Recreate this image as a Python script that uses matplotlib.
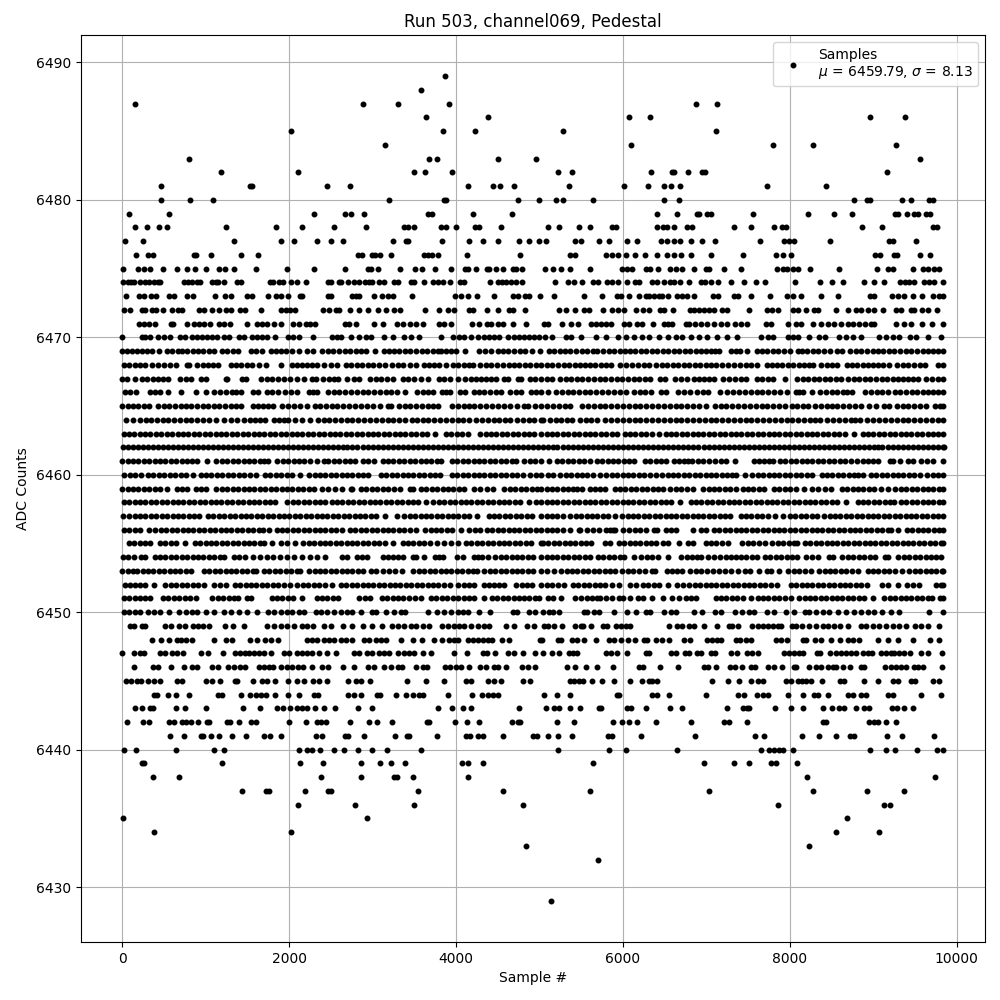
import numpy as np
import matplotlib
matplotlib.use("Agg")
import matplotlib.pyplot as plt

# Sample numbers, one list per ADC level
s6489 = [3872]
s6488 = [3584]
s6487 = [152, 2888, 3308, 3920, 6876, 7128]
s6486 = [3644, 4388, 6072, 6324, 8964, 9384]
s6485 = [2024, 3848, 4232, 5280, 7116]
s6484 = [3152, 6096, 7800, 8280, 9276]
s6483 = [800, 3680, 3776, 4508, 4960, 9564]
s6482 = [1184, 2108, 3500, 3632, 3956, 5220, 5388, 6336, 6588, 6612, 6780, 6948, 6980, 9168]
s6481 = [464, 1528, 1556, 2456, 2732, 4148, 4448, 4532, 4700, 5352, 6012, 6300, 6492, 6576, 6684, 7728, 8436]
s6480 = [464, 812, 1088, 3200, 3860, 3880, 4748, 4992, 5196, 5280, 5640, 6492, 6672, 8772, 8924, 8960, 9348, 9456, 9672, 9720]
s6479 = [80, 560, 2300, 2672, 2744, 2900, 3668, 3716, 4208, 4676, 6408, 6648, 6884, 6912, 7012, 7052, 7560, 8220, 8532, 8748, 9264, 9296, 9408, 9492, 9540, 9636, 9684]
s6478 = [152, 296, 440, 536, 1244, 1844, 2156, 2540, 2924, 3380, 3420, 3500, 3824, 3884, 4004, 4232, 4280, 4544, 5100, 5232, 5472, 5604, 5872, 5920, 6408, 6480, 6532, 6612, 6768, 6828, 7332, 7536, 7812, 7908, 7948, 8868, 9108, 9720, 9760]
s6477 = [32, 248, 1340, 1904, 2060, 2336, 2504, 2648, 3248, 3396, 3428, 3836, 4160, 4328, 4508, 4760, 4880, 4990, 5076, 5424, 5496, 5712, 5836, 6048, 6168, 6456, 6532, 6612, 6680, 6816, 6948, 7104, 7644, 7932, 7992, 8052, 8484, 9192, 9240, 9516]
s6476 = [164, 308, 368, 860, 880, 1064, 1424, 1628, 2828, 2876, 2996, 3028, 3092, 3224, 3620, 3668, 3708, 3788, 4136, 4772, 5364, 5424, 5796, 5872, 5940, 6036, 6144, 6264, 6408, 6528, 6612, 6696, 6816, 7056, 7440, 7836, 7920, 8016, 9024, 9084, 9252, 9284, 9564, 9684]
s6475 = [8, 188, 260, 332, 488, 656, 776, 872, 1004, 1160, 1236, 1340, 1604, 1976, 2300, 2672, 2940, 2980, 3060, 3332, 3512, 3596, 3752, 3940, 4108, 4140, 4244, 4372, 4400, 4484, 4564, 4684, 4724, 4796, 5064, 5160, 5256, 5364, 5604, 5992, 6052, 6112, 6276, 6324, 6420, 6564, 6632, 6708, 6852, 6992, 7032, 7212, 7416, 7848, 7912, 7960, 8032, 8092, 8244, 8592, 9048, 9180, 9240, 9480, 9596, 9652, 9732, 9792]
s6474 = [8, 68, 108, 140, 212, 280, 320, 388, 428, 460, 740, 788, 836, 892, 932, 1080, 1120, 1148, 1220, 1380, 1428, 1772, 1812, 1880, 1924, 2020, 2096, 2204, 2468, 2508, 2600, 2628, 2708, 2780, 2840, 2908, 2960, 2988, 3080, 3140, 3260, 3308, 3460, 3492, 3620, 3728, 3788, 3848, 3924, 4052, 4100, 4404, 4500, 4548, 4600, 4660, 4724, 4788, 5184, 5340, 5412, 5508, 5640, 5700, 5808, 5872, 5940, 6052, 6144, 6192, 6348, 6412, 6492, 6564, 6612, 6684, 6792, 6932, 6984, 7052, 7140, 7296, 7452, 7596, 7704, 8064, 8364, 8508, 8640, 8892, 9012, 9132, 9324, 9380, 9432, 9492, 9612, 9672, 9732, 9840]
s6473 = [44, 200, 260, 348, 412, 560, 620, 776, 848, 1112, 1236, 1304, 1492, 1556, 1748, 1844, 1908, 1988, 2132, 2160, 2468, 2500, 2756, 2800, 2840, 3020, 3116, 3180, 3248, 3476, 3992, 4060, 4148, 4256, 4460, 4688, 4748, 4832, 4880, 5004, 5172, 5532, 5748, 5928, 5980, 6072, 6192, 6272, 6312, 6372, 6432, 6472, 6540, 6652, 6712, 6772, 6852, 7080, 7140, 7332, 7380, 7536, 7764, 7964, 8032, 8136, 8376, 8580, 8956, 9004, 9228, 9300, 9372, 9472, 9580, 9720, 9792, 9840]
s6472 = [28, 100, 244, 276, 360, 412, 492, 592, 672, 716, 924, 980, 1080, 1160, 1240, 1304, 1412, 1468, 1664, 1900, 1960, 2012, 2072, 2404, 2480, 2560, 2600, 2732, 2840, 2948, 3068, 3164, 3260, 3332, 3632, 3800, 3900, 3980, 4160, 4200, 4376, 4508, 4640, 4680, 4832, 5232, 5312, 5424, 5532, 5592, 5760, 5872, 5940, 6012, 6160, 6240, 6312, 6444, 6492, 6600, 6804, 6852, 6912, 6972, 7032, 7092, 7192, 7252, 7512, 7724, 7780, 7852, 8032, 8092, 8192, 8292, 8332, 8556, 8700, 8792, 8852, 8932, 9012, 9120, 9276, 9332, 9452, 9484, 9588, 9652, 9768]
s6471 = [200, 260, 328, 392, 580, 612, 776, 860, 920, 980, 1052, 1160, 1220, 1292, 1496, 1620, 1680, 1740, 1820, 1900, 2048, 2120, 2200, 2252, 2312, 2672, 2720, 2800, 3020, 3120, 3288, 3360, 3448, 3520, 3600, 3800, 3860, 3940, 4192, 4280, 4368, 4420, 4500, 4560, 4680, 4840, 5052, 5100, 5268, 5380, 5460, 5612, 5672, 5732, 5792, 5852, 6012, 6072, 6164, 6232, 6360, 6492, 6540, 6592, 6752, 6792, 6860, 6932, 7012, 7092, 7172, 7252, 7340, 7412, 7488, 7712, 7772, 7980, 8072, 8132, 8280, 8372, 8452, 8532, 8612, 8692, 8752, 8832, 8904, 8972, 9012, 9276, 9372, 9452, 9584, 9708, 9840]
s6470 = [0, 240, 280, 340, 428, 500, 572, 692, 756, 840, 900, 960, 1020, 1080, 1140, 1220, 1280, 1400, 1460, 1552, 1620, 1680, 1740, 1832, 1988, 2052, 2120, 2288, 2520, 2580, 2628, 2748, 2840, 2920, 2980, 3132, 3240, 3372, 3460, 3560, 3820, 3968, 4040, 4092, 4184, 4260, 4332, 4400, 4460, 4520, 4628, 4700, 4760, 4820, 4880, 4932, 4992, 5072, 5152, 5312, 5372, 5492, 5672, 5792, 5940, 6032, 6132, 6232, 6312, 6428, 6540, 6632, 6712, 6812, 6912, 7012, 7132, 7252, 7372, 7652, 7732, 7792, 7972, 8032, 8092, 8228, 8352, 8420, 8592, 8672, 8752, 8852, 9072, 9152, 9232, 9312, 9444, 9512, 9652, 9812]
s6469 = [0, 60, 115, 180, 240, 300, 360, 440, 540, 600, 665, 720, 780, 850, 910, 975, 1040, 1100, 1200, 1260, 1330, 1390, 1540, 1610, 1680, 1780, 1840, 1900, 1965, 2030, 2120, 2220, 2290, 2400, 2470, 2530, 2600, 2670, 2730, 2800, 2860, 2920, 3032, 3132, 3195, 3260, 3320, 3390, 3450, 3520, 3590, 3650, 3720, 3780, 3820, 3880, 3940, 4000, 4112, 4280, 4350, 4420, 4500, 4560, 4620, 4700, 4770, 4830, 4910, 5010, 5112, 5180, 5240, 5310, 5370, 5440, 5510, 5570, 5640, 5692, 5760, 5830, 5890, 5960, 6020, 6090, 6150, 6220, 6280, 6350, 6410, 6480, 6540, 6610, 6670, 6740, 6800, 6870, 6930, 7000, 7060, 7100, 7152, 7290, 7350, 7400, 7492, 7600, 7665, 7730, 7800, 7860, 7930, 8000, 8092, 8140, 8210, 8280, 8340, 8410, 8480, 8560, 8630, 8720, 8790, 8850, 8920, 8990, 9050, 9120, 9190, 9250, 9320, 9390, 9450, 9520, 9590, 9650, 9720, 9780, 9840]
s6468 = [20, 85, 150, 210, 270, 360, 430, 500, 570, 640, 780, 800, 900, 965, 1030, 1090, 1150, 1300, 1365, 1430, 1500, 1560, 1640, 1720, 1900, 2030, 2095, 2160, 2220, 2280, 2340, 2420, 2500, 2580, 2680, 2740, 2810, 2875, 2940, 3010, 3080, 3150, 3230, 3300, 3370, 3445, 3520, 3620, 3680, 3740, 3800, 3880, 3960, 4020, 4100, 4150, 4200, 4290, 4360, 4420, 4490, 4560, 4630, 4690, 4760, 4825, 4890, 4960, 5020, 5090, 5150, 5220, 5290, 5350, 5420, 5480, 5540, 5610, 5670, 5740, 5800, 5860, 5970, 6040, 6110, 6180, 6250, 6310, 6400, 6470, 6530, 6600, 6665, 6730, 6790, 6860, 6920, 6990, 7060, 7120, 7190, 7260, 7330, 7400, 7470, 7540, 7600, 7720, 7785, 7850, 7910, 7980, 8040, 8110, 8170, 8230, 8280, 8370, 8440, 8510, 8570, 8680, 8740, 8800, 8870, 8930, 8990, 9060, 9120, 9190, 9280, 9350, 9420, 9490, 9555, 9620, 9780, 9840]
s6467 = [0, 60, 150, 240, 300, 370, 430, 490, 550, 690, 760, 830, 940, 1000, 1240, 1260, 1440, 1480, 1660, 1730, 1800, 1870, 1940, 2010, 2090, 2180, 2280, 2320, 2410, 2480, 2540, 2590, 2690, 2780, 2840, 2970, 3040, 3100, 3170, 3240, 3360, 3430, 3500, 3580, 3660, 3800, 3860, 3930, 4030, 4110, 4180, 4240, 4300, 4360, 4420, 4480, 4570, 4620, 4740, 4780, 4890, 4950, 5020, 5090, 5150, 5250, 5320, 5380, 5450, 5510, 5580, 5650, 5720, 5790, 5860, 5930, 5990, 6060, 6130, 6190, 6260, 6320, 6440, 6500, 6620, 6700, 6770, 6850, 6910, 6970, 7030, 7090, 7200, 7270, 7340, 7410, 7480, 7610, 7670, 7735, 7800, 7940, 8090, 8160, 8220, 8290, 8350, 8420, 8480, 8550, 8610, 8700, 8765, 8830, 8900, 8960, 9030, 9100, 9160, 9230, 9300, 9360, 9420, 9480, 9540, 9630, 9700, 9770, 9840]
s6466 = [30, 100, 170, 330, 390, 450, 550, 700, 890, 1000, 1100, 1170, 1245, 1320, 1360, 1430, 1570, 1630, 1730, 1800, 1870, 1950, 2020, 2090, 2240, 2290, 2340, 2470, 2540, 2600, 2670, 2740, 2810, 2880, 2950, 3020, 3090, 3160, 3225, 3290, 3390, 3530, 3600, 3670, 3730, 3830, 3880, 3930, 4050, 4110, 4210, 4280, 4340, 4410, 4475, 4540, 4650, 4715, 4780, 4900, 4960, 5020, 5100, 5200, 5270, 5340, 5400, 5470, 5540, 5610, 5680, 5750, 5820, 5890, 5965, 6040, 6130, 6200, 6270, 6340, 6460, 6520, 6660, 6730, 6800, 6890, 6955, 7020, 7160, 7250, 7320, 7390, 7460, 7530, 7600, 7670, 7740, 7810, 7880, 7960, 8070, 8115, 8160, 8270, 8360, 8430, 8500, 8570, 8640, 8690, 8740, 8900, 8970, 9040, 9100, 9170, 9260, 9320, 9390, 9460, 9520, 9590, 9650, 9720, 9780, 9840]
s6465 = [0, 65, 130, 195, 260, 320, 430, 500, 565, 630, 700, 765, 830, 900, 965, 1030, 1100, 1165, 1230, 1300, 1365, 1430, 1570, 1630, 1690, 1750, 1810, 1920, 1990, 2060, 2135, 2210, 2310, 2375, 2440, 2510, 2580, 2650, 2720, 2790, 2860, 2930, 3010, 3090, 3190, 3220, 3320, 3390, 3455, 3525, 3590, 3670, 3730, 3790, 3950, 4020, 4090, 4150, 4220, 4290, 4360, 4430, 4500, 4570, 4650, 4730, 4820, 4860, 4950, 5020, 5090, 5160, 5230, 5300, 5370, 5510, 5580, 5650, 5720, 5790, 5860, 5930, 6000, 6070, 6140, 6210, 6280, 6350, 6420, 6490, 6560, 6630, 6700, 6770, 6840, 6910, 7000, 7100, 7170, 7240, 7310, 7380, 7450, 7520, 7590, 7660, 7730, 7800, 7870, 7940, 8020, 8090, 8160, 8220, 8300, 8370, 8440, 8510, 8570, 8640, 8710, 8780, 8850, 8950, 9030, 9130, 9190, 9280, 9350, 9420, 9490, 9560, 9630, 9740, 9800, 9840]
s6464 = [50, 130, 220, 285, 350, 420, 490, 555, 620, 690, 760, 830, 900, 970, 1040, 1130, 1220, 1300, 1380, 1460, 1530, 1590, 1650, 1710, 1820, 1880, 1940, 1990, 2070, 2160, 2250, 2350, 2415, 2480, 2550, 2620, 2690, 2760, 2830, 2900, 2970, 3040, 3110, 3180, 3250, 3320, 3390, 3470, 3535, 3600, 3670, 3740, 3810, 3880, 3950, 4020, 4085, 4150, 4240, 4310, 4380, 4450, 4520, 4590, 4650, 4730, 4800, 4870, 4940, 5020, 5040, 5130, 5200, 5260, 5330, 5390, 5490, 5560, 5620, 5690, 5790, 5860, 5930, 6000, 6070, 6140, 6210, 6280, 6350, 6420, 6490, 6560, 6630, 6700, 6770, 6840, 6910, 6980, 7050, 7120, 7190, 7260, 7330, 7400, 7470, 7540, 7610, 7680, 7750, 7820, 7890, 7960, 8030, 8100, 8170, 8240, 8300, 8360, 8450, 8520, 8590, 8660, 8730, 8785, 8840, 8920, 9000, 9070, 9140, 9210, 9280, 9350, 9420, 9490, 9560, 9630, 9700, 9780, 9840]
s6463 = [20, 80, 145, 210, 275, 340, 405, 470, 535, 600, 665, 730, 795, 860, 925, 990, 1055, 1120, 1185, 1250, 1315, 1380, 1445, 1510, 1575, 1640, 1705, 1770, 1835, 1900, 1965, 2030, 2095, 2160, 2225, 2290, 2355, 2420, 2485, 2550, 2615, 2680, 2745, 2810, 2875, 2940, 3005, 3070, 3135, 3200, 3265, 3330, 3395, 3460, 3525, 3590, 3655, 3750, 3880, 3945, 4010, 4075, 4140, 4290, 4355, 4420, 4485, 4550, 4615, 4680, 4745, 4810, 4875, 4940, 5020, 5085, 5150, 5215, 5280, 5345, 5410, 5475, 5540, 5605, 5670, 5735, 5800, 5865, 5930, 6020, 6085, 6150, 6215, 6280, 6345, 6430, 6510, 6575, 6640, 6705, 6770, 6835, 6900, 6965, 7030, 7095, 7160, 7225, 7290, 7355, 7420, 7485, 7550, 7615, 7680, 7745, 7810, 7875, 7940, 8005, 8070, 8135, 8200, 8265, 8330, 8395, 8460, 8525, 8590, 8655, 8770, 8870, 8935, 9000, 9065, 9130, 9195, 9260, 9325, 9390, 9455, 9520, 9580, 9650, 9715, 9780, 9830]
s6462 = [10, 65, 125, 185, 245, 305, 365, 425, 485, 545, 605, 665, 725, 785, 845, 905, 965, 1025, 1085, 1145, 1205, 1265, 1325, 1385, 1445, 1505, 1565, 1625, 1685, 1745, 1805, 1865, 1925, 1985, 2045, 2105, 2165, 2225, 2285, 2345, 2405, 2465, 2525, 2585, 2645, 2700, 2760, 2820, 2880, 2940, 3000, 3060, 3120, 3180, 3240, 3300, 3360, 3420, 3480, 3540, 3600, 3660, 3720, 3780, 3840, 3900, 3960, 4020, 4080, 4140, 4200, 4260, 4320, 4380, 4440, 4500, 4560, 4620, 4680, 4740, 4800, 4860, 4920, 4980, 5040, 5100, 5160, 5210, 5280, 5340, 5400, 5460, 5520, 5580, 5640, 5700, 5760, 5820, 5880, 5940, 6000, 6060, 6120, 6180, 6240, 6300, 6360, 6420, 6480, 6540, 6600, 6660, 6720, 6780, 6840, 6900, 6970, 7030, 7090, 7150, 7210, 7270, 7330, 7390, 7450, 7510, 7570, 7630, 7690, 7750, 7810, 7870, 7930, 7990, 8050, 8110, 8170, 8230, 8290, 8350, 8410, 8470, 8530, 8590, 8650, 8710, 8770, 8830, 8890, 8950, 9010, 9060, 9100, 9170, 9230, 9290, 9350, 9410, 9470, 9530, 9590, 9650, 9710, 9770, 9830, 9845]
s6461 = [0, 65, 130, 195, 260, 325, 390, 455, 520, 585, 650, 715, 780, 840, 900, 1020, 1130, 1195, 1260, 1325, 1390, 1455, 1520, 1585, 1650, 1700, 1750, 1860, 1925, 1990, 2055, 2120, 2185, 2250, 2340, 2420, 2470, 2535, 2600, 2665, 2730, 2790, 2890, 2950, 3020, 3120, 3185, 3250, 3315, 3380, 3445, 3510, 3575, 3640, 3705, 3770, 3820, 3950, 4015, 4080, 4145, 4210, 4275, 4340, 4405, 4470, 4535, 4600, 4665, 4720, 4820, 4885, 4950, 5020, 5120, 5210, 5275, 5340, 5405, 5470, 5530, 5610, 5690, 5750, 5815, 5880, 5945, 6010, 6075, 6130, 6260, 6325, 6390, 6450, 6510, 6610, 6670, 6730, 6780, 6830, 6900, 6965, 7030, 7100, 7170, 7230, 7340, 7570, 7630, 7690, 7750, 7800, 7880, 7945, 8010, 8075, 8140, 8205, 8270, 8335, 8400, 8465, 8530, 8595, 8660, 8730, 8800, 8880, 8940, 9000, 9060, 9200, 9240, 9320, 9410, 9480, 9570, 9640, 9720, 9840]
s6460 = [20, 90, 160, 230, 310, 375, 440, 505, 570, 635, 700, 765, 850, 940, 1005, 1070, 1135, 1200, 1265, 1330, 1395, 1460, 1530, 1600, 1710, 1775, 1840, 1905, 1970, 2040, 2130, 2240, 2305, 2370, 2435, 2500, 2565, 2630, 2695, 2760, 2825, 2890, 2950, 3100, 3165, 3230, 3295, 3360, 3425, 3490, 3555, 3620, 3685, 3750, 3810, 3950, 4015, 4080, 4145, 4210, 4275, 4340, 4405, 4470, 4535, 4600, 4665, 4730, 4800, 4890, 4960, 5020, 5100, 5160, 5250, 5315, 5380, 5445, 5510, 5575, 5640, 5720, 5800, 5865, 5930, 5995, 6060, 6125, 6190, 6255, 6320, 6400, 6470, 6535, 6600, 6665, 6730, 6795, 6860, 6925, 6990, 7055, 7120, 7185, 7250, 7310, 7360, 7464, 7550, 7615, 7680, 7745, 7810, 7875, 7940, 8005, 8070, 8135, 8200, 8260, 8380, 8445, 8510, 8575, 8640, 8705, 8770, 8820, 8880, 8970, 9035, 9100, 9165, 9230, 9295, 9360, 9425, 9490, 9555, 9640, 9712, 9780, 9840]
s6459 = [0, 65, 130, 195, 260, 325, 390, 455, 540, 660, 720, 780, 890, 945, 1000, 1130, 1195, 1260, 1325, 1390, 1455, 1520, 1585, 1650, 1715, 1780, 1845, 1910, 1975, 2040, 2105, 2170, 2235, 2300, 2400, 2470, 2550, 2630, 2740, 2760, 2860, 2925, 2990, 3055, 3120, 3185, 3260, 3330, 3450, 3490, 3580, 3645, 3710, 3775, 3840, 3905, 3970, 4035, 4090, 4210, 4290, 4370, 4440, 4580, 4645, 4710, 4775, 4840, 4905, 4970, 5020, 5085, 5150, 5215, 5280, 5345, 5400, 5450, 5510, 5600, 5660, 5720, 5780, 5900, 5965, 6030, 6095, 6160, 6225, 6290, 6355, 6420, 6480, 6560, 6630, 6700, 6770, 6840, 6960, 7025, 7090, 7155, 7220, 7285, 7350, 7440, 7500, 7560, 7630, 7690, 7810, 7875, 7940, 8005, 8070, 8170, 8270, 8340, 8415, 8490, 8620, 8685, 8750, 8815, 8880, 8945, 9010, 9090, 9180, 9255, 9330, 9392, 9460, 9525, 9590, 9655, 9720, 9785, 9840]
s6458 = [20, 85, 150, 215, 280, 345, 410, 475, 540, 605, 670, 735, 800, 865, 930, 995, 1060, 1125, 1190, 1255, 1320, 1385, 1450, 1515, 1580, 1645, 1710, 1775, 1830, 1980, 2045, 2110, 2175, 2240, 2305, 2370, 2430, 2510, 2575, 2640, 2705, 2770, 2835, 2900, 2965, 3030, 3095, 3160, 3225, 3290, 3355, 3420, 3485, 3550, 3640, 3730, 3795, 3860, 3925, 3990, 4055, 4120, 4185, 4250, 4315, 4380, 4445, 4510, 4575, 4640, 4705, 4770, 4880, 4960, 5020, 5085, 5150, 5215, 5280, 5345, 5410, 5475, 5540, 5605, 5670, 5735, 5800, 5865, 5930, 5995, 6060, 6125, 6190, 6255, 6320, 6385, 6450, 6515, 6580, 6680, 6810, 6875, 6940, 7005, 7070, 7135, 7200, 7265, 7330, 7395, 7460, 7525, 7590, 7655, 7720, 7785, 7850, 7915, 7980, 8045, 8110, 8175, 8240, 8305, 8370, 8435, 8500, 8565, 8670, 8810, 8875, 8940, 9005, 9070, 9135, 9200, 9250, 9330, 9395, 9460, 9525, 9590, 9655, 9720, 9785, 9830]
s6457 = [10, 80, 150, 215, 280, 345, 410, 475, 540, 605, 670, 735, 800, 865, 920, 1030, 1095, 1160, 1225, 1290, 1355, 1420, 1485, 1550, 1615, 1680, 1745, 1810, 1875, 1940, 2005, 2070, 2135, 2200, 2265, 2330, 2395, 2460, 2525, 2590, 2655, 2720, 2785, 2850, 2915, 2980, 3045, 3150, 3290, 3380, 3445, 3510, 3575, 3640, 3705, 3770, 3835, 3900, 3965, 4030, 4095, 4160, 4250, 4390, 4455, 4520, 4585, 4650, 4715, 4780, 4845, 4910, 5020, 5085, 5150, 5215, 5280, 5370, 5435, 5500, 5565, 5630, 5695, 5760, 5820, 5904, 5990, 6055, 6120, 6185, 6250, 6315, 6380, 6445, 6510, 6575, 6640, 6705, 6770, 6835, 6900, 6965, 7030, 7095, 7160, 7225, 7280, 7410, 7475, 7540, 7605, 7670, 7735, 7820, 7912, 8000, 8065, 8130, 8195, 8260, 8320, 8410, 8475, 8540, 8605, 8670, 8735, 8800, 8865, 8930, 8995, 9060, 9125, 9190, 9255, 9320, 9385, 9450, 9515, 9580, 9645, 9710, 9775, 9840]
s6456 = [20, 85, 150, 215, 320, 400, 465, 530, 595, 660, 725, 790, 850, 920, 985, 1050, 1115, 1180, 1245, 1310, 1375, 1440, 1505, 1570, 1635, 1690, 1764, 1850, 1915, 1980, 2045, 2110, 2175, 2240, 2305, 2370, 2435, 2500, 2565, 2630, 2730, 2795, 2860, 2925, 2990, 3055, 3120, 3185, 3250, 3315, 3380, 3450, 3524, 3630, 3695, 3760, 3825, 3890, 3955, 4060, 4160, 4225, 4290, 4370, 4435, 4500, 4565, 4630, 4695, 4760, 4825, 4890, 4960, 5020, 5085, 5150, 5215, 5280, 5360, 5470, 5490, 5570, 5640, 5710, 5800, 5840, 5880, 5900, 6000, 6070, 6140, 6210, 6280, 6370, 6410, 6510, 6575, 6640, 6840, 6940, 7000, 7090, 7155, 7220, 7285, 7350, 7415, 7480, 7545, 7610, 7675, 7740, 7805, 7870, 7935, 8000, 8065, 8130, 8195, 8260, 8325, 8390, 8455, 8520, 8585, 8650, 8715, 8780, 8845, 8910, 8975, 9040, 9105, 9170, 9210, 9292, 9400, 9465, 9530, 9595, 9660, 9725, 9790, 9840]
s6455 = [80, 145, 210, 270, 330, 450, 520, 585, 650, 750, 870, 935, 1000, 1065, 1130, 1195, 1260, 1325, 1390, 1455, 1520, 1585, 1650, 1700, 1800, 1900, 1970, 2072, 2170, 2235, 2300, 2365, 2430, 2495, 2560, 2625, 2690, 2755, 2820, 2885, 2950, 3015, 3080, 3145, 3250, 3360, 3425, 3490, 3555, 3620, 3685, 3770, 3860, 3940, 4020, 4120, 4185, 4250, 4315, 4380, 4445, 4510, 4575, 4640, 4705, 4770, 4835, 4900, 5020, 5040, 5105, 5170, 5235, 5300, 5365, 5430, 5495, 5560, 5620, 5780, 5840, 5950, 6015, 6080, 6145, 6210, 6275, 6340, 6390, 6480, 6540, 6672, 6780, 6840, 6990, 7055, 7120, 7185, 7260, 7430, 7495, 7560, 7625, 7700, 7790, 7855, 7920, 7985, 8050, 8090, 8180, 8245, 8310, 8375, 8440, 8505, 8570, 8635, 8700, 8765, 8830, 8895, 8960, 9025, 9090, 9155, 9220, 9285, 9350, 9415, 9480, 9545, 9610, 9675, 9740, 9805, 9840]
s6454 = [10, 75, 140, 230, 280, 390, 455, 520, 585, 650, 715, 780, 845, 910, 975, 1040, 1105, 1170, 1220, 1340, 1405, 1470, 1572, 1650, 1730, 1810, 1890, 1970, 2060, 2160, 2250, 2340, 2430, 2630, 2700, 2820, 2875, 2930, 3120, 3185, 3250, 3310, 3370, 3490, 3520, 3620, 3750, 3800, 3850, 4010, 4080, 4220, 4265, 4310, 4380, 4470, 4535, 4600, 4665, 4730, 4795, 4860, 4925, 5020, 5085, 5150, 5215, 5280, 5345, 5410, 5475, 5540, 5600, 5700, 5765, 5830, 5895, 5960, 6010, 6132, 6220, 6285, 6350, 6420, 6540, 6700, 6765, 6830, 6890, 6940, 7020, 7090, 7160, 7230, 7300, 7350, 7415, 7480, 7545, 7610, 7700, 7765, 7830, 7895, 7960, 8025, 8090, 8190, 8260, 8340, 8470, 8520, 8630, 8695, 8760, 8825, 8890, 8955, 9020, 9140, 9170, 9300, 9365, 9430, 9495, 9560, 9625, 9690, 9755, 9810]
s6453 = [0, 65, 130, 180, 245, 310, 375, 440, 505, 570, 630, 690, 760, 830, 980, 1045, 1110, 1175, 1240, 1305, 1370, 1435, 1500, 1565, 1600, 1700, 1765, 1830, 1895, 1960, 2025, 2090, 2130, 2240, 2305, 2370, 2435, 2500, 2565, 2630, 2695, 2760, 2825, 2890, 2980, 3040, 3120, 3195, 3270, 3350, 3490, 3555, 3620, 3685, 3750, 3815, 3880, 3945, 4010, 4075, 4140, 4205, 4250, 4340, 4405, 4470, 4535, 4600, 4665, 4730, 4795, 4860, 4925, 5020, 5085, 5170, 5260, 5325, 5390, 5455, 5520, 5585, 5650, 5715, 5780, 5845, 5910, 5990, 6055, 6120, 6190, 6260, 6350, 6380, 6530, 6590, 6650, 6710, 6800, 6870, 6940, 7010, 7080, 7150, 7225, 7300, 7380, 7460, 7520, 7624, 7730, 7770, 7872, 7980, 8045, 8110, 8180, 8250, 8350, 8415, 8480, 8545, 8610, 8675, 8740, 8820, 8930, 8995, 9060, 9125, 9190, 9255, 9340, 9430, 9495, 9560, 9625, 9690, 9755, 9820, 9840]
s6452 = [40, 100, 160, 220, 280, 380, 520, 585, 650, 715, 780, 845, 910, 980, 1100, 1175, 1250, 1350, 1415, 1480, 1545, 1610, 1675, 1740, 1805, 1870, 1935, 2010, 2100, 2165, 2230, 2295, 2360, 2425, 2520, 2620, 2685, 2750, 2815, 2880, 2945, 3010, 3075, 3140, 3205, 3270, 3335, 3400, 3465, 3530, 3595, 3660, 3725, 3790, 3855, 3930, 4030, 4090, 4150, 4210, 4330, 4395, 4460, 4520, 4580, 4720, 4785, 4850, 4915, 5020, 5085, 5150, 5220, 5290, 5400, 5465, 5530, 5595, 5660, 5725, 5790, 5870, 5948, 6090, 6160, 6240, 6305, 6370, 6435, 6540, 6650, 6720, 6790, 6860, 6925, 6990, 7055, 7120, 7185, 7250, 7315, 7380, 7445, 7510, 7575, 7640, 7705, 7770, 7850, 8010, 8075, 8140, 8205, 8270, 8335, 8400, 8465, 8530, 8595, 8660, 8725, 8790, 8855, 8920, 9100, 9180, 9292, 9400, 9470, 9552, 9750, 9805, 9840]
s6451 = [20, 85, 150, 215, 280, 330, 490, 555, 620, 685, 750, 815, 890, 1080, 1145, 1210, 1275, 1340, 1390, 1500, 1540, 1790, 1855, 1920, 1985, 2050, 2156, 2330, 2395, 2460, 2525, 2590, 2840, 2905, 2970, 3110, 3175, 3240, 3305, 3370, 3435, 3510, 3580, 3700, 3765, 3830, 3895, 3960, 4025, 4090, 4155, 4220, 4330, 4430, 4495, 4560, 4625, 4690, 4755, 4810, 4880, 4950, 4992, 5100, 5160, 5260, 5420, 5500, 5570, 5630, 5690, 5730, 5800, 5870, 5950, 6000, 6080, 6180, 6240, 6352, 6480, 6590, 6670, 6760, 6820, 6880, 7110, 7175, 7240, 7305, 7370, 7435, 7530, 7620, 7680, 7740, 7810, 7875, 7940, 8010, 8110, 8175, 8240, 8305, 8370, 8435, 8500, 8565, 8630, 8695, 8760, 8825, 8890, 9000, 9130, 9195, 9260, 9325, 9390, 9455, 9520, 9585, 9650, 9700, 9800, 9840]
s6450 = [28, 80, 160, 220, 308, 380, 460, 560, 680, 764, 840, 900, 1000, 1100, 1220, 1308, 1400, 1500, 1620, 1752, 1820, 1900, 1980, 2040, 2120, 2180, 2320, 2388, 2460, 2540, 2620, 2700, 2760, 2860, 2988, 3040, 3164, 3260, 3340, 3392, 3668, 3776, 3860, 3940, 4020, 4080, 4140, 4280, 4412, 4680, 4732, 4880, 4952, 5044, 5112, 5164, 5232, 5532, 5572, 5652, 5712, 5896, 6044, 6152, 6272, 6324, 6492, 6572, 6632, 6852, 6952, 7104, 7176, 7340, 7428, 7512, 7572, 7724, 7812, 7952, 8052, 8180, 8232, 8312, 8392, 8472, 8572, 8672, 8772, 8852, 8932, 9012, 9100, 9216, 9312, 9672, 9840]
s6449 = [100, 148, 240, 280, 520, 580, 680, 748, 848, 908, 972, 1040, 1228, 1332, 1460, 1736, 1820, 1900, 1980, 2060, 2160, 2220, 2292, 2420, 2500, 2648, 2756, 2880, 2996, 3116, 3228, 3300, 3380, 3460, 3520, 3600, 3680, 3828, 3900, 3972, 4040, 4100, 4180, 4260, 4340, 4400, 4596, 4700, 4856, 4932, 5060, 5100, 5172, 5268, 5420, 5492, 5524, 5616, 5764, 5804, 5912, 5972, 6032, 6084, 6552, 6652, 6712, 6792, 6852, 6976, 7128, 7272, 7312, 7380, 7552, 7612, 7672, 7732, 7792, 7852, 7892, 8020, 8072, 8140, 8232, 8312, 8392, 8452, 8532, 8604, 8700, 8852, 8912, 8992, 9072, 9152, 9232, 9312, 9392, 9500, 9572, 9652, 9788]
s6448 = [356, 464, 560, 660, 700, 764, 836, 1100, 1244, 1320, 1532, 1620, 1712, 1784, 1868, 2220, 2280, 2332, 2420, 2480, 2540, 2620, 2680, 2760, 2900, 2960, 3040, 3100, 3160, 3344, 3488, 3596, 3740, 3836, 3920, 3980, 4020, 4140, 4200, 4260, 4320, 4380, 4428, 4548, 4632, 5004, 5036, 5220, 5252, 5392, 5444, 5532, 5676, 5832, 5892, 5972, 6060, 6144, 6252, 6292, 6392, 6472, 6552, 6732, 6804, 7012, 7072, 7124, 7172, 7352, 7404, 7472, 7532, 7836, 7896, 7968, 8152, 8192, 8304, 8376, 8496, 8604, 8692, 8752, 8832, 9052, 9172, 9292, 9472, 9684, 9788]
s6447 = [0, 148, 212, 268, 452, 520, 600, 660, 732, 940, 1028, 1208, 1348, 1412, 1468, 1520, 1580, 1640, 1700, 1784, 1940, 2000, 2100, 2160, 2220, 2280, 2360, 2460, 2564, 2780, 2840, 2932, 2988, 3080, 3140, 3200, 3308, 3380, 3440, 3500, 3608, 3704, 3980, 4136, 4328, 4372, 4468, 4620, 4700, 4808, 4944, 5040, 5152, 5232, 5352, 5404, 5444, 5792, 5852, 5932, 6048, 6272, 6312, 6572, 6632, 6740, 6792, 6884, 6932, 7052, 7104, 7292, 7368, 7492, 7552, 7620, 7932, 7992, 8052, 8112, 8152, 8324, 8364, 8484, 8552, 8612, 8672, 8732, 8792, 8872, 8932, 8980, 9092, 9152, 9212, 9252, 9312, 9364, 9444, 9572, 9652, 9828]
s6446 = [140, 368, 428, 580, 736, 836, 900, 1076, 1148, 1268, 1340, 1412, 1472, 1640, 1700, 1760, 1808, 1908, 1972, 2040, 2108, 2172, 2276, 2400, 2468, 2648, 2780, 2948, 3020, 3140, 3220, 3300, 3348, 3524, 3600, 3652, 3872, 3932, 4000, 4060, 4156, 4292, 4360, 4460, 4508, 4604, 4788, 4868, 4944, 5324, 5424, 5552, 5688, 5880, 6192, 6244, 6440, 6660, 6972, 7024, 7116, 7284, 7340, 7424, 7532, 7580, 7740, 7804, 7908, 8044, 8076, 8232, 8312, 8372, 8452, 8512, 8552, 8640, 8724, 8852, 8884, 9140, 9212, 9272, 9332, 9392, 9484, 9532, 9600, 9828]
s6445 = [44, 108, 180, 228, 308, 380, 460, 656, 720, 1004, 1076, 1172, 1348, 1380, 1568, 1680, 1732, 1832, 1988, 2096, 2180, 2288, 2360, 2460, 2708, 2800, 2868, 2972, 3416, 3640, 3860, 4120, 4180, 4388, 4460, 4544, 4804, 4892, 5364, 5412, 5472, 5524, 5628, 5752, 5892, 6084, 6228, 6312, 6352, 6412, 7068, 7260, 7392, 7536, 7612, 7672, 7952, 8012, 8092, 8140, 8192, 8252, 8380, 8604, 8644, 8892, 9060, 9232, 9292, 9452, 9500, 9720, 9792]
s6444 = [380, 420, 548, 644, 800, 1148, 1196, 1424, 1532, 1600, 1660, 1720, 1832, 1988, 2120, 2300, 2348, 2708, 2780, 2860, 3048, 3084, 3284, 3404, 3488, 3560, 3600, 3908, 4196, 4308, 4380, 4440, 4500, 5052, 5208, 5364, 5924, 5952, 6352, 6404, 6552, 6996, 7380, 7452, 7608, 7680, 7740, 7980, 8152, 8292, 8340, 8460, 8700, 8752, 8852, 8912, 9180, 9240, 9576, 9816]
s6443 = [152, 236, 332, 372, 644, 752, 1004, 1448, 1652, 1852, 1928, 2012, 2092, 2160, 2212, 2312, 2420, 2548, 2828, 2996, 3788, 3956, 4088, 4184, 4760, 5076, 5180, 5232, 5364, 5484, 5712, 5732, 6048, 6100, 6276, 6564, 6708, 7248, 7440, 7492, 7512, 7824, 8008, 8160, 8400, 8508, 8592, 8652, 8796, 8892, 8948, 9228, 9288, 9372, 9472]
s6442 = [56, 248, 320, 560, 620, 716, 764, 820, 908, 1012, 1044, 1260, 1292, 1400, 1544, 1604, 2000, 2204, 2336, 2388, 2448, 2732, 2960, 3056, 3236, 3652, 3680, 3992, 4136, 4280, 4676, 4740, 4772, 5208, 5412, 5880, 5988, 6072, 6168, 6396, 6816, 7212, 7272, 7488, 8392, 8436, 8952, 9012, 9052, 9156, 9276]
s6441 = [572, 740, 940, 968, 1064, 1160, 1316, 1484, 1700, 1772, 1904, 2324, 2396, 2672, 2704, 2900, 3272, 3412, 3440, 3776, 4124, 4164, 4268, 4320, 4568, 4924, 4972, 5100, 5220, 5388, 5820, 5872, 6216, 6864, 7584, 7692, 8148, 8352, 8556, 8724, 8764, 9168, 9348, 9732]
s6440 = [20, 164, 644, 1100, 1220, 2120, 2220, 2276, 2372, 2540, 2660, 2828, 2996, 3176, 3584, 5220, 5832, 6036, 6648, 7656, 7752, 7812, 7872, 7912, 8040, 8964, 9156, 9264, 9528, 9768, 9840]
s6439 = [240, 268, 1196, 2132, 2408, 2864, 3092, 3224, 3392, 4076, 4148, 4328, 5640, 6972, 7332, 7512, 7776, 7836, 8088]
s6438 = [368, 680, 2384, 2864, 3252, 3288, 3488, 4148, 8208, 9744]
s6437 = [1436, 1720, 1756, 2192, 2468, 2500, 3548, 4568, 5604, 7032, 8280, 8928, 9372]
s6436 = [2108, 2792, 3500, 4808, 7860, 9132, 9204]
s6435 = [8, 2936, 8688]
s6434 = [380, 2024, 8556, 9072]
s6433 = [4844, 8232]
s6432 = [5700]
s6429 = [5136]

levels = [6489, 6488, 6487, 6486, 6485, 6484, 6483, 6482, 6481, 6480, 6479, 6478, 6477, 6476, 6475, 6474,
          6473, 6472, 6471, 6470, 6469, 6468, 6467, 6466, 6465, 6464, 6463, 6462, 6461, 6460, 6459, 6458,
          6457, 6456, 6455, 6454, 6453, 6452, 6451, 6450, 6449, 6448, 6447, 6446, 6445, 6444, 6443, 6442,
          6441, 6440, 6439, 6438, 6437, 6436, 6435, 6434, 6433, 6432, 6429]
samples = [s6489, s6488, s6487, s6486, s6485, s6484, s6483, s6482, s6481, s6480, s6479, s6478, s6477, s6476, s6475, s6474,
           s6473, s6472, s6471, s6470, s6469, s6468, s6467, s6466, s6465, s6464, s6463, s6462, s6461, s6460, s6459, s6458,
           s6457, s6456, s6455, s6454, s6453, s6452, s6451, s6450, s6449, s6448, s6447, s6446, s6445, s6444, s6443, s6442,
           s6441, s6440, s6439, s6438, s6437, s6436, s6435, s6434, s6433, s6432, s6429]

x = np.concatenate([np.array(s) for s in samples])
y = np.concatenate([np.full(len(s), lv) for s, lv in zip(samples, levels)])

fig, ax = plt.subplots(figsize=(10, 10), dpi=100)
ax.plot(x, y, "k.", markersize=6.5, label="Samples\n$\\mu$ = 6459.79, $\\sigma$ = 8.13")
ax.set_title("Run 503, channel069, Pedestal")
ax.set_xlabel("Sample #")
ax.set_ylabel("ADC Counts")
ax.legend(loc="upper right")
ax.grid(True)
fig.subplots_adjust(left=0.081, right=0.985, top=0.965, bottom=0.058)
fig.savefig("out.png")
